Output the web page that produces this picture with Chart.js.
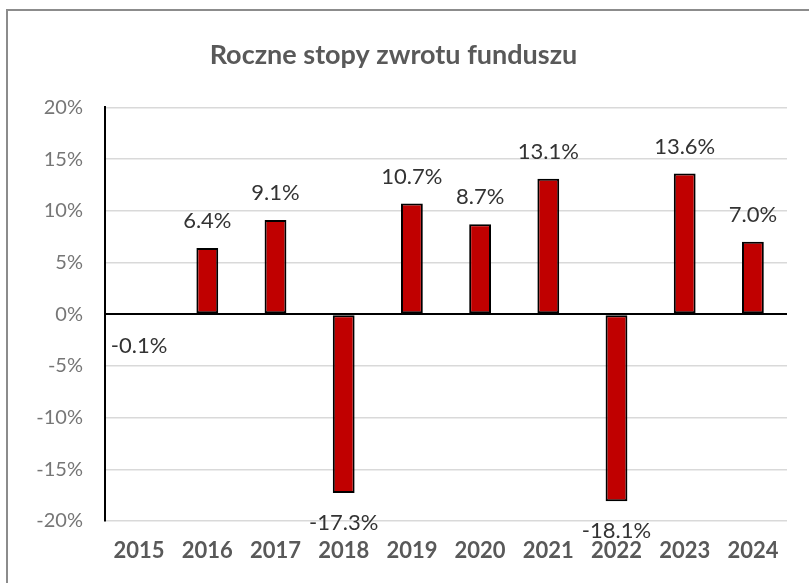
<!DOCTYPE html>
<html>
<head>
<meta charset="utf-8">
<script src="https://cdn.jsdelivr.net/npm/chart.js@4.4.1/dist/chart.umd.min.js"></script>
<style>
  html, body { margin: 0; padding: 0; background: #fff; overflow: hidden; }
  #wrap { position: relative; width: 809px; height: 583px; }
  #frame { position: absolute; left: 6px; top: 9px; width: 900px; height: 700px;
           border: 2px solid #8c8c8c; box-sizing: border-box; pointer-events: none; }
  canvas { position: absolute; left: 0; top: 0; }
</style>
</head>
<body>
<div id="wrap">
  <canvas id="grafica" width="809" height="583"></canvas>
  <div id="frame"></div>
</div>
<script>
// dane
const lata = ["2015","2016","2017","2018","2019","2020","2021","2022","2023","2024"]
const stopy = [-0.1, 6.4, 9.1, -17.3, 10.7, 8.7, 13.1, -18.1, 13.6, 7.0]
const tytul = "Roczne stopy zwrotu funduszu"
const fontName = "Lato, 'Open Sans', sans-serif"

// etykiety nad/pod slupkami
const etykiety = {
  id: 'etykiety',
  afterDatasetsDraw(chart){
    const ctx = chart.ctx
    const meta = chart.getDatasetMeta(0)
    ctx.save()
    ctx.font = "22px " + fontName
    ctx.fillStyle = "#333333"
    ctx.textAlign = "center"
    ctx.textBaseline = "middle"
    meta.data.forEach((bar, i) => {
      let v = stopy[i]
      let y = v >= 0 ? bar.y - 27 : bar.y + 30
      if (v < 0 && v > -1) y = chart.scales.y.getPixelForValue(0) + 32
      ctx.fillText(v.toFixed(1) + "%", bar.x, y)
    })
    ctx.restore()
  }
}

let chart = new Chart(document.getElementById("grafica"), {
  type: 'bar',
  data: {
    labels: lata,
    datasets: [{
      data: stopy,
      backgroundColor: '#c00000',
      borderColor: '#000000',
      borderWidth: 2,
      borderSkipped: false,
      barPercentage: 0.32,
      categoryPercentage: 1
    }]
  },
  options: {
    responsive: false,
    animation: false,
    layout: { padding: { left: 0, right: 22, top: 0, bottom: 12 } },
    plugins: {
      legend: { display: false },
      tooltip: { enabled: false },
      title: {
        display: true,
        text: tytul,
        color: '#595959',
        font: { family: fontName, size: 27, weight: 'bold' },
        padding: { top: 39, bottom: 36 }
      }
    },
    scales: {
      x: {
        grid: { display: false, drawTicks: false },
        border: { display: false },
        ticks: {
          color: '#595959',
          padding: 17,
          font: { family: fontName, size: 22, weight: 'bold' }
        },
        afterFit(scale){ scale.height = 50 }
      },
      y: {
        min: -20,
        max: 20,
        grid: {
          drawTicks: false,
          color: c => c.tick && c.tick.value === 0 ? '#000000' : '#d9d9d9',
          lineWidth: c => c.tick && c.tick.value === 0 ? 2 : 1.5
        },
        border: { display: true, color: '#000000', width: 2 },
        ticks: {
          stepSize: 5,
          color: '#767676',
          padding: 22,
          font: { family: fontName, size: 20 },
          callback: v => v + "%"
        },
        afterFit(scale){ scale.width = 105 }
      }
    }
  },
  plugins: [etykiety]
})
</script>
</body>
</html>
